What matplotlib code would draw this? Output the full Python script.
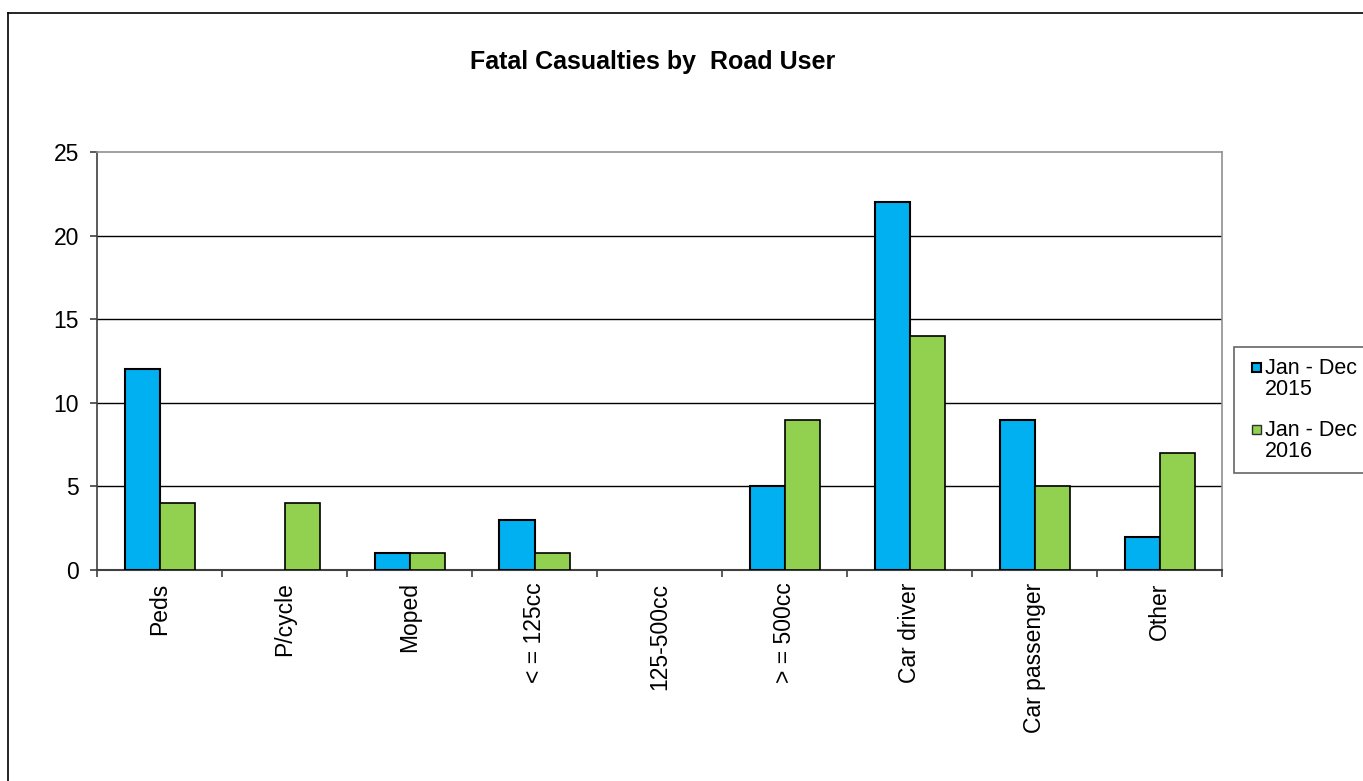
import matplotlib
matplotlib.use("Agg")
import matplotlib.pyplot as plt
import numpy as np
from matplotlib.lines import Line2D
from matplotlib.patches import Rectangle, Patch
from matplotlib.legend_handler import HandlerBase

plt.rcParams['font.family'] = ['Liberation Sans', 'DejaVu Sans']

categories = ["Peds", "P/cycle", "Moped", "< = 125cc", "125-500cc", "> = 500cc",
              "Car driver", "Car passenger", "Other"]
series_2015 = [12, 0, 1, 3, 0, 5, 22, 9, 2]
series_2016 = [4, 4, 1, 1, 0, 9, 14, 5, 7]
labels = ["Jan - Dec\n2015", "Jan - Dec\n2016"]
colors = ["#00B0F0", "#92D050"]
yticks = [0, 5, 10, 15, 20, 25]

W, H = 1363, 781
fig = plt.figure(figsize=(W / 100, H / 100), dpi=100)
ax = fig.add_axes([97 / W, 1 - 570 / H, (1222 - 97) / W, (570 - 152) / H])

x = np.arange(len(categories))
bw = 0.28
for vals, off, col, lab, lw in [(series_2015, -bw / 2, colors[0], labels[0], 1.5),
                                (series_2016, bw / 2, colors[1], labels[1], 1.2)]:
    ec = ["black" if v > 0 else "none" for v in vals]
    ax.bar(x + off, vals, bw, color=col, edgecolor=ec, linewidth=lw, zorder=3)

ax.set_xlim(-0.5, len(categories) - 0.5)
ax.set_ylim(0, 25)
ax.set_yticks(yticks)
ax.set_yticklabels([str(v) for v in yticks], fontsize=16.5)
for v in yticks[1:-1]:
    ax.axhline(v, color="black", linewidth=1.0, zorder=1)

ax.set_xticks(x)
ax.set_xticklabels(categories, rotation=90, fontsize=16.5, va="top")
ax.tick_params(axis="x", which="major", length=0, pad=9)
ax.set_xticks(np.arange(-0.5, len(categories), 1.0), minor=True)
ax.tick_params(axis="x", which="minor", length=5, width=1.2, color="#404040", direction="out")
ax.tick_params(axis="y", length=5, width=1.2, color="#404040", pad=8)

for s in ["top", "right"]:
    ax.spines[s].set_color("#909090")
    ax.spines[s].set_linewidth(1.2)
ax.spines["left"].set_color("#404040")
ax.spines["left"].set_linewidth(1.2)
ax.spines["bottom"].set_color("#404040")
ax.spines["bottom"].set_linewidth(1.5)

fig.text(653 / W, 1 - 62 / H, "Fatal Casualties by  Road User", ha="center", va="center",
         fontsize=18, fontweight="bold")

# figure border
fig.add_artist(Line2D([8 / W, 8 / W], [0, 1 - 13 / H], transform=fig.transFigure,
                      color="black", linewidth=1.2))
fig.add_artist(Line2D([8 / W, 1], [1 - 13 / H, 1 - 13 / H], transform=fig.transFigure,
                      color="black", linewidth=1.2))


class TopSquare(HandlerBase):
    def create_artists(self, legend, orig_handle, xdescent, ydescent, width, height,
                       fontsize, trans):
        s = 0.42 * fontsize
        r = Rectangle((width - s - xdescent, -ydescent + 0.62 * fontsize), s, s,
                      facecolor=orig_handle.get_facecolor(),
                      edgecolor=orig_handle.get_edgecolor(),
                      linewidth=orig_handle.get_linewidth(), transform=trans)
        return [r]


handles = [Patch(facecolor=colors[0], edgecolor="black", linewidth=1.5),
           Patch(facecolor=colors[1], edgecolor="#303030", linewidth=1.0)]
leg = fig.legend(handles, labels, loc="upper left", bbox_to_anchor=(1234 / W, 1 - 347 / H),
                 fontsize=15.5, frameon=True, fancybox=False, edgecolor="#404040",
                 handlelength=0.74, handleheight=0.5, handletextpad=0.2,
                 labelspacing=0.95, borderpad=0.5, borderaxespad=0,
                 handler_map={Patch: TopSquare()})
leg.get_frame().set_linewidth(1.2)
for t in leg.get_texts():
    t.set_linespacing(1.0)

fig.savefig("out.png", dpi=100)
